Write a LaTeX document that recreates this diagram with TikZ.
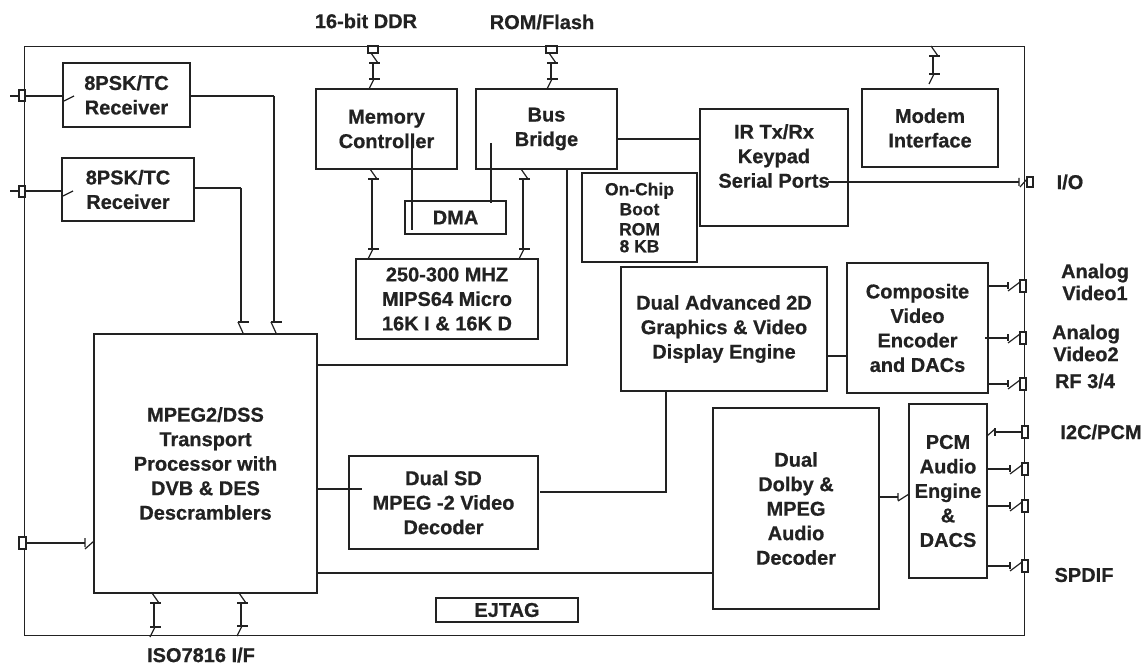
\documentclass[tikz,border=0pt]{standalone}
\usepackage{fontspec}
\setmainfont{Liberation Sans}[BoldFeatures={FakeBold=0.7}]
\usetikzlibrary{calc}
\newcommand\dgbig{\fontsize{20}{24.5}\selectfont\bfseries}
\newcommand\dgsmall{\fontsize{17.5}{20}\selectfont\bfseries}
\definecolor{ink}{HTML}{222222}
% box: name, x, y (top-left), width, height, text
\newcommand\dgbx[6]{\node[box, minimum width=#4pt, minimum height=#5pt, anchor=north west] (#1) at (#2,#3) {#6};}
% bidirectional vertical bus: x, y top end, y bottom end
\newcommand\dgvbus[3]{%
  \draw[ln] (#1-2,#2) -- (#1+5,#2+10);
  \draw[ln] (#1-4,#2+10) -- (#1+7,#2+10);
  \draw[ln] (#1,#2+10) -- (#1,#3-10);
  \draw[ln] (#1-4,#3-10) -- (#1+7,#3-10);
  \draw[ln] (#1+1,#3-10) -- (#1-4,#3);}
% one-way vertical into box top: x, y start, y box top
\newcommand\dgvin[3]{%
  \draw[ln] (#1,#2) -- (#1,#3-12);
  \draw[ln] (#1-3,#3-12) -- (#1+8,#3-12);
  \draw[ln] (#1-3,#3-12) -- (#1+2,#3-1);}
% horizontal output to pad: x start, y, pad left x, line style
\newcommand\dghout[4]{%
  \draw[#4] (#1,#2) -- (#3-12,#2);
  \draw[ln] (#3-12,#2-4) -- (#3-12,#2+3);
  \draw[ln] (#3-12,#2+5) -- (#3,#2-4);
  \draw[pad] (#3,#2-6) rectangle (#3+6,#2+6);}
\begin{document}
\begin{tikzpicture}[x=1pt,y=-1pt,
  ln/.style={draw=ink, line width=1.2pt},
  bus/.style={draw=ink, line width=2.4pt},
  pad/.style={draw=ink, line width=1.1pt, fill=white},
  box/.style={draw=ink, line width=1.3pt, inner sep=0pt, outer sep=0pt, align=center, font=\dgbig, text=ink},
  lbl/.style={inner sep=0pt, align=center, font=\dgbig, text=ink}]
\useasboundingbox (0,0) rectangle (1144,666);
\node[draw=ink, line width=1.3pt, minimum width=1000pt, minimum height=589pt, anchor=north west, inner sep=0pt] (chip) at (24,46) {};

% boxes
\dgbx{rec1}{63}{63}{127}{64}{8PSK/TC\\Receiver}
\dgbx{rec2}{62}{158}{132}{63}{8PSK/TC\\Receiver}
\dgbx{mc}{316}{89}{141}{80}{Memory\\Controller}
\dgbx{bb}{476}{89}{141}{80}{Bus\\Bridge}
\dgbx{dma}{405}{201}{101}{33}{DMA}
\dgbx{mips}{356}{259}{182}{80}{250-300 MHZ\\MIPS64 Micro\\16K I \& 16K D}
\node[box, font=\dgsmall, minimum width=115pt, minimum height=89pt, anchor=north west] (rom) at (582,173) {On-Chip\\Boot\\ROM\\[-3pt]8 KB};
\dgbx{ir}{700}{109}{148}{117}{}
\node[lbl] (irt) at (774,156) {IR Tx/Rx\\Keypad\\Serial Ports};
\dgbx{modem}{862}{89}{136}{78}{Modem\\Interface}
\dgbx{gfx}{621}{267}{206}{124}{Dual Advanced 2D\\Graphics \& Video\\Display Engine}
\dgbx{cve}{847}{263}{141}{130}{Composite\\Video\\Encoder\\and DACs}
\dgbx{mpeg}{94}{334}{223}{259}{MPEG2/DSS\\Transport\\Processor with\\DVB \& DES\\Descramblers}
\dgbx{sd}{349}{456}{189}{93}{Dual SD\\MPEG -2 Video\\Decoder}
\dgbx{dolby}{713}{408}{166}{201}{Dual\\Dolby \&\\MPEG\\Audio\\Decoder}
\dgbx{pcm}{909}{404}{78}{174}{PCM\\Audio\\Engine\\\&\\DACS}
\dgbx{ejtag}{436}{598}{142}{24}{EJTAG}

% receivers to transport
\draw[ln, line width=2pt] (rec1.east |- 0,96) -- (274,96);
\dgvin{274}{96}{334}
\draw[ln, line width=2pt] (rec2.east |- 0,188) -- (241,188);
\dgvin{241}{188}{334}

% receiver inputs
\draw[bus] (10,96) -- (rec1.west |- 0,96);
\draw[ln] (63,92) -- (63,100) (64,101) -- (74,96);
\draw[pad] (19,90) rectangle (25,101);
\draw[bus] (10,191) -- (rec2.west |- 0,191);
\draw[ln] (62,187) -- (62,195) (63,196) -- (73,191);
\draw[pad] (19,186) rectangle (25,197);

% transport left input
\draw[bus] (26,543) -- (85,543);
\draw[ln] (85,538) -- (85,547) (85,549) -- (94,541);
\draw[pad] (19,537) rectangle (26,549);

% memory / bus bridge buses
\dgvbus{373}{53}{89}
\draw[pad] (368,46) rectangle (378,53);
\dgvbus{551}{53}{89}
\draw[pad] (546,46) rectangle (557,53);
\dgvbus{372}{169}{259}
\dgvbus{523}{169}{259}

% DMA links
\draw[ln] (412,140) -- (412,230);
\draw[ln] (491,143) -- (491,203);

% bus bridge links
\draw[ln] (567,169) -- (567,365) -- (mpeg.east |- 0,365);
\draw[ln] (bb.east |- 0,139) -- (ir.west |- 0,139);

% modem
\dgvbus{933}{46}{84}

% I/O
\draw[ln, line width=2pt] (828,182) -- (1019,182);
\draw[ln] (1019,178) -- (1019,186) (1020,187) -- (1027,179);
\draw[pad] (1027,177) rectangle (1033,187);

% graphics / video
\draw[ln] (gfx.east |- 0,356) -- (cve.west |- 0,356);
\dghout{988}{286}{1020}{bus}
\dghout{985}{338}{1020}{bus}
\dghout{988}{384}{1020}{bus}
\draw[ln] (mpeg.east |- 0,489) -- (362,489);
\draw[ln] (540,492) -| (666,391);
\draw[ln] (mpeg.east |- 0,573) -- (dolby.west |- 0,573);

% audio
\draw[ln] (dolby.east |- 0,497) -- (898,497);
\draw[ln] (898,493) -- (898,500) (898,501) -- (909,494);
\draw[ln] (987,436) -- (995,429);
\draw[ln] (995,428) -- (995,436);
\draw[ln] (995,432) -- (1022,432);
\draw[pad] (1022,426) rectangle (1028,438);
\dghout{987}{469}{1022}{bus}
\dghout{987}{506}{1022}{bus}
\dghout{987}{566}{1022}{bus}

% ISO7816
\dgvbus{154}{593}{637}
\dgvbus{241}{593}{636}

% labels
\node[lbl] (lddr) at (366,21) {16-bit DDR};
\node[lbl] (lrom) at (542,22) {ROM/Flash};
\node[lbl] (lio) at (1070,182) {I/O};
\node[lbl, font=\fontsize{20}{22}\selectfont\bfseries] (lav1) at (1095,282) {Analog\\Video1};
\node[lbl, font=\fontsize{20}{22}\selectfont\bfseries] (lav2) at (1086,343) {Analog\\Video2};
\node[lbl] (lrf) at (1085,381) {RF 3/4};
\node[lbl] (li2c) at (1101,432) {I2C/PCM};
\node[lbl] (lspdif) at (1084,575) {SPDIF};
\node[lbl] (liso) at (201,655) {ISO7816 I/F};
\end{tikzpicture}
\end{document}
